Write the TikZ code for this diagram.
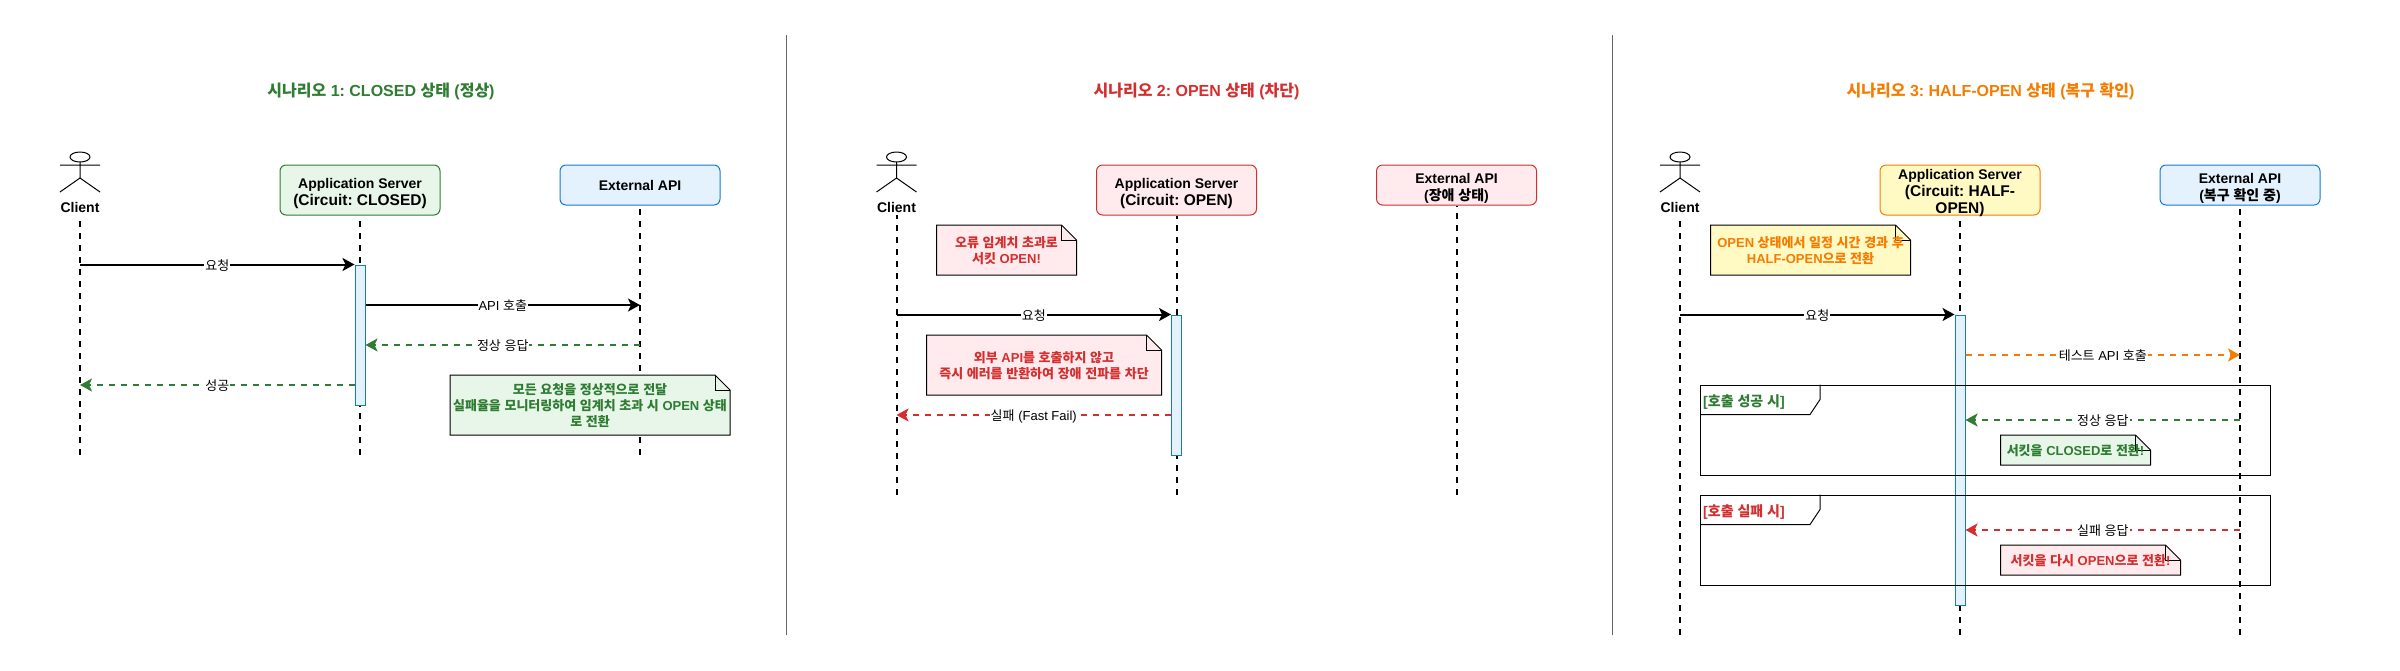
\documentclass[tikz,border=0pt]{standalone}
\usepackage{fontspec}
\usetikzlibrary{calc,arrows.meta}

\setmainfont{Liberation Sans}
\newfontfamily\krfont{Noto Sans CJK KR}
\frenchspacing

% hangul goes to the korean font
\XeTeXinterchartokenstate=1
\newXeTeXintercharclass\krclass
\count255="AC00
\loop
  \XeTeXcharclass\count255=\krclass
  \ifnum\count255<"D7A3 \advance\count255 by 1
\repeat
\XeTeXinterchartoks 0 \krclass={\begingroup\krfont}
\XeTeXinterchartoks 4095 \krclass={\begingroup\krfont}
\XeTeXinterchartoks \krclass 0={\endgroup}
\XeTeXinterchartoks \krclass 4095={\endgroup}

\definecolor{okgreen}{HTML}{2E7D32}
\definecolor{okfill}{HTML}{E8F5E9}
\definecolor{badred}{HTML}{D32F2F}
\definecolor{badfill}{HTML}{FFEBEE}
\definecolor{halforange}{HTML}{F57C00}
\definecolor{halffill}{HTML}{FFF9C4}
\definecolor{apiblue}{HTML}{1976D2}
\definecolor{apifill}{HTML}{E3F2FD}

\newcommand{\bigline}{\fontsize{15.5}{17}\selectfont\bfseries}

\tikzset{
  title/.style={font=\fontsize{16}{19}\selectfont\bfseries},
  actorlabel/.style={font=\fontsize{14}{17}\selectfont\bfseries, inner sep=0pt, minimum height=16pt},
  server/.style={draw=#1, line width=1pt, rounded corners=6pt, minimum width=160pt, minimum height=50pt,
    align=center, inner sep=0pt, font=\fontsize{14}{17}\selectfont\bfseries, text height=35pt},
  api/.style={server=#1, minimum height=40pt, text height=34pt},
  lifeline/.style={line width=2pt, dash pattern=on 6pt off 6pt},
  activation/.style={draw=apiblue, fill=apifill, line width=1pt, minimum width=10pt, inner sep=0pt},
  msg/.style={line width=2pt, -{Stealth[length=12pt,width=13pt,inset=3pt]}},
  reply/.style={msg, draw=#1, dash pattern=on 6pt off 6pt},
  msglabel/.style={midway, yshift=-1pt, fill=white, inner sep=1pt, text=black, font=\fontsize{13}{16}\selectfont},
  notetext/.style={align=center, inner sep=0pt, font=\fontsize{13}{16}\selectfont\bfseries},
  framebox/.style={draw, line width=1pt, inner sep=0pt, minimum width=570pt, minimum height=90pt},
  framelabel/.style={anchor=west, inner sep=0pt, font=\fontsize{14}{17}\selectfont\bfseries},
  divider/.style={draw=black!60, line width=1pt},
  stickman/.pic={
    \draw[line width=1pt] (0,5) ellipse (10pt and 5pt);
    \draw[line width=1pt] (0,10) -- (0,26) (-20,13) -- (20,13) (-20,40) -- (0,26) -- (20,40);
  }
}

% name, top left, bottom right, fill, text colour, text
\newcommand{\notebox}[6]{
  \coordinate (#1a) at (#2);
  \coordinate (#1b) at (#3);
  \draw[fill=#4, line width=1pt] (#1a) -- ($(#1a -| #1b)+(-15,0)$) -- ($(#1a -| #1b)+(0,15)$) -- (#1b) -- (#1a |- #1b) -- cycle;
  \draw[line width=1pt] ($(#1a -| #1b)+(-15,0)$) -- ($(#1a -| #1b)+(-15,15)$) -- ($(#1a -| #1b)+(0,15)$);
  \node[notetext, text=#5] (#1) at ($(#1a)!0.5!(#1b)+(0,1)$) {#6};
}

\begin{document}
\begin{tikzpicture}[x=1pt,y=-1pt]
  \useasboundingbox (0,0) rectangle (2400,670);

  % dividers
  \coordinate (d1a) at (786.5,35);
  \coordinate (d1b) at (786.5,635);
  \coordinate (d2a) at (1612.5,35);
  \coordinate (d2b) at (1612.5,635);
  \draw[divider] (d1a) -- (d1b);
  \draw[divider] (d2a) -- (d2b);

  % scenario 1
  \node[title, text=okgreen] (title1) at (381,91) {시나리오 1: CLOSED 상태 (정상)};
  \pic at (80,152) {stickman};
  \node[actorlabel] (client1) at (80,207) {Client};
  \node[server=okgreen, fill=okfill] (app1) at (360,190) {Application Server\\\bigline(Circuit: CLOSED)};
  \node[api=apiblue, fill=apifill, text height=12pt] (ext1) at (640,185) {External API};
  \coordinate (end1) at (0,455);
  \draw[lifeline] (client1 |- end1) -- (client1.south);
  \draw[lifeline] (app1 |- end1) -- (app1.south);
  \draw[lifeline] (ext1 |- end1) -- (ext1.south);
  \node[activation, minimum height=140pt] (act1) at (360,335) {};
  \coordinate (row1a) at (0,305);
  \coordinate (row1b) at (0,345);
  \coordinate (row1c) at (0,385);
  \draw[msg] (client1 |- act1.north) -- node[msglabel] (m1a) {요청} (act1.north west);
  \draw[msg] (act1.east |- row1a) -- node[msglabel] (m1b) {API 호출} (ext1 |- row1a);
  \draw[reply=okgreen] (ext1 |- row1b) -- node[msglabel] (m1c) {정상 응답} (act1.east |- row1b);
  \draw[reply=okgreen] (act1.west |- row1c) -- node[msglabel] (m1d) {성공} (client1 |- row1c);
  \notebox{note1}{450,375}{730,435}{okfill}{okgreen}{모든 요청을 정상적으로 전달\\실패율을 모니터링하여 임계치 초과 시 OPEN 상태\\로 전환}

  % scenario 2
  \node[title, text=badred] (title2) at (1196.5,91) {시나리오 2: OPEN 상태 (차단)};
  \pic at (896.5,152) {stickman};
  \node[actorlabel] (client2) at (896.5,207) {Client};
  \node[server=badred, fill=badfill] (app2) at (1176.5,190) {Application Server\\\bigline(Circuit: OPEN)};
  \node[api=badred, fill=badfill] (ext2) at (1456.5,185) {External API\\(장애 상태)};
  \coordinate (end2) at (0,495);
  \draw[lifeline] (client2 |- end2) -- (client2.south);
  \draw[lifeline] (app2 |- end2) -- (app2.south);
  \draw[lifeline] (ext2 |- end2) -- (ext2.south);
  \notebox{note2a}{936.5,225}{1076.5,275}{badfill}{badred}{오류 임계치 초과로\\서킷 OPEN!}
  \node[activation, minimum height=140pt] (act2) at (1176.5,385) {};
  \coordinate (row2a) at (0,415);
  \draw[msg] (client2 |- act2.north) -- node[msglabel] (m2a) {요청} (act2.north west);
  \notebox{note2b}{926.5,335}{1161.5,395}{badfill}{badred}{외부 API를 호출하지 않고\\즉시 에러를 반환하여 장애 전파를 차단}
  \draw[reply=badred] (act2.west |- row2a) -- node[msglabel] (m2b) {실패 (Fast Fail)} (client2 |- row2a);

  % scenario 3
  \node[title, text=halforange] (title3) at (1990.5,91) {시나리오 3: HALF-OPEN 상태 (복구 확인)};
  \pic at (1680,152) {stickman};
  \node[actorlabel] (client3) at (1680,207) {Client};
  \node[server=halforange, fill=halffill, text height=48pt, text depth=2pt] (app3) at (1960,190) {Application Server\\\bigline(Circuit: HALF-\\\bigline OPEN)};
  \node[api=apiblue, fill=apifill] (ext3) at (2240,185) {External API\\(복구 확인 중)};
  \coordinate (end3) at (0,635);
  \draw[lifeline] (client3 |- end3) -- (client3.south);
  \draw[lifeline] (app3 |- end3) -- (app3.south);
  \draw[lifeline] (ext3 |- end3) -- (ext3.south);
  \notebox{note3a}{1710.5,225}{1910.5,275}{halffill}{halforange}{OPEN 상태에서 일정 시간 경과 후\\HALF-OPEN으로 전환}
  \node[activation, minimum height=290pt] (act3) at (1960,460) {};
  \coordinate (row3a) at (0,355);
  \coordinate (row3b) at (0,420);
  \coordinate (row3c) at (0,530);
  \draw[msg] (client3 |- act3.north) -- node[msglabel] (m3a) {요청} (act3.north west);
  \draw[reply=halforange] (act3.east |- row3a) -- node[msglabel] (m3b) {테스트 API 호출} (ext3 |- row3a);

  \node[framebox] (frame1) at (1985.5,430) {};
  \draw[line width=1pt] ($(frame1.north west)+(120,0)$) -- ($(frame1.north west)+(120,15)$) -- ($(frame1.north west)+(110,30)$) -- ($(frame1.north west)+(0,30)$);
  \coordinate (frame1tag) at ($(frame1.north west)+(3,18)$);
  \node[framelabel, text=okgreen] (tag1) at (frame1tag) {[호출 성공 시]};
  \draw[reply=okgreen] (ext3 |- row3b) -- node[msglabel] (m3c) {정상 응답} (act3.east |- row3b);
  \notebox{note3b}{2000.5,435}{2150.5,465}{okfill}{okgreen}{서킷을 CLOSED로 전환!}

  \node[framebox] (frame2) at (1985.5,540) {};
  \draw[line width=1pt] ($(frame2.north west)+(120,0)$) -- ($(frame2.north west)+(120,15)$) -- ($(frame2.north west)+(110,30)$) -- ($(frame2.north west)+(0,30)$);
  \coordinate (frame2tag) at ($(frame2.north west)+(3,18)$);
  \node[framelabel, text=badred] (tag2) at (frame2tag) {[호출 실패 시]};
  \draw[reply=badred] (ext3 |- row3c) -- node[msglabel] (m3d) {실패 응답} (act3.east |- row3c);
  \notebox{note3c}{2000.5,545}{2180.5,575}{badfill}{badred}{서킷을 다시 OPEN으로 전환!}
\end{tikzpicture}
\end{document}
